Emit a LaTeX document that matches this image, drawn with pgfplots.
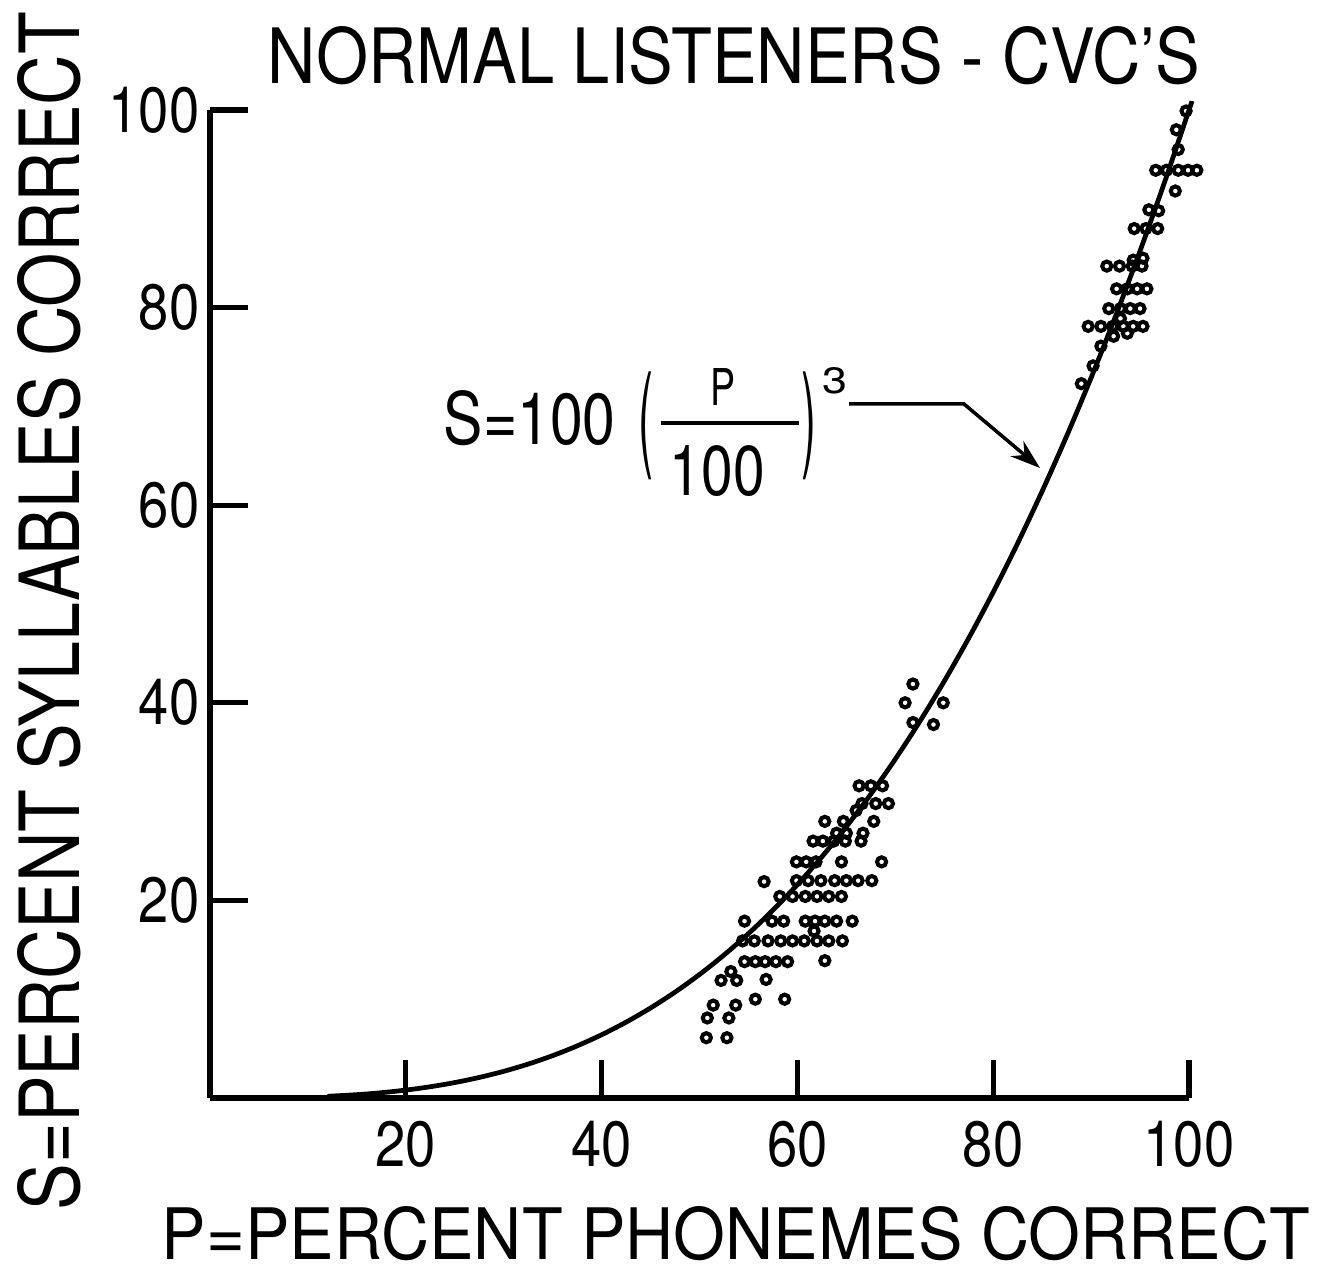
\documentclass[border=0pt]{standalone}
\usepackage{fontspec}
\setmainfont{TeX Gyre Heros}[FakeStretch=0.85]
\usepackage{graphicx}
\usepackage{pgfplots}
\pgfplotsset{compat=1.18}
\usetikzlibrary{arrows.meta}
\begin{document}
\begin{tikzpicture}[x=1mm,y=1mm]
\useasboundingbox (-21.0,-17.2) rectangle (111.8,109.8);
\begin{axis}[
  at={(0,0)}, anchor=south west,
  scale only axis, width=97.9mm, height=98.8mm,
  xmin=0, xmax=100, ymin=0, ymax=100,
  axis lines=left,
  axis line style={-, line width=1.5pt},
  xtick={20,40,60,80,100}, ytick={20,40,60,80,100},
  tick align=inside,
  major tick length=3.8mm,
  tick style={line width=1.5pt, black},
  /pgf/number format/assume math mode=true,
  ticklabel style={font=\fontsize{18.2}{20}\selectfont},
  xticklabel style={anchor=north, inner sep=0pt, yshift=-2.2mm},
  yticklabel style={anchor=east, inner sep=0pt, xshift=-1.0mm},
  clip=false,
]
\addplot[smooth, line width=1.35pt, no marks] coordinates {
(12,0.173)(15,0.338)(17.5,0.536)(20,0.8)(22.5,1.139)(25,1.5625)(27.5,2.080)
(30,2.7)(32.5,3.433)(35,4.288)(37.5,5.273)(40,6.4)(42.5,7.677)(45,9.113)
(47.5,10.717)(50,12.5)(52.5,14.470)(55,16.638)(57.5,19.011)(60,21.6)
(62.5,24.414)(65,27.463)(67.5,30.755)(70,34.3)(72.5,38.108)(75,42.188)
(77.5,46.548)(80,51.2)(82.5,56.152)(85,61.413)(87.5,66.992)(90,72.9)
(92.5,79.145)(95,85.738)(97.5,92.686)(100,100)(100.3,100.9)
};
\addplot[only marks, mark=o, mark size=1.3pt, mark options={line width=1.15pt, fill=white}] coordinates {
(50.7,6.1)(52.8,6.1)
(50.8,8.1)(53.0,8.1)
(51.4,9.4)(53.7,9.4)
(55.7,10.0)(58.7,10.0)
(52.2,11.9)(53.2,12.8)(53.8,11.9)(56.8,12.0)
(54.6,13.8)(55.7,13.8)(56.7,13.8)(57.8,13.8)(59.0,13.8)(62.8,13.9)
(54.4,15.9)(55.6,15.9)(57.0,15.9)(58.3,15.9)(59.5,15.9)(60.7,15.9)(62.0,15.9)(63.2,15.9)(64.6,15.9)
(61.7,16.9)
(54.6,17.9)(57.4,17.9)(58.6,17.9)(60.8,17.9)(61.8,17.9)(62.8,17.9)(64.0,17.9)(65.6,17.9)
(58.2,20.4)(59.5,20.4)(60.8,20.4)(62.0,20.4)(63.2,20.4)(64.5,20.4)
(56.6,21.9)
(59.9,22.0)(61.1,22.0)(62.4,22.0)(63.8,22.0)(65.0,22.0)(66.2,22.0)(67.6,22.0)
(59.9,23.9)(60.9,23.9)(61.9,23.9)(64.5,23.9)(68.6,23.9)
(61.6,26.0)(62.6,26.0)(63.7,26.0)(64.9,26.0)(66.5,26.0)
(64.0,26.8)(65.0,26.8)(66.7,26.8)
(62.8,28.0)(64.7,28.0)(67.8,28.0)
(66.0,29.1)
(66.6,29.8)(68.0,29.8)(69.3,29.8)
(66.3,31.6)(67.5,31.6)(68.7,31.6)
(71.8,41.9)(71.0,40.0)(74.9,40.0)(71.8,38.0)(73.9,37.8)
(99.7,99.9)(98.7,98.0)(98.9,96.0)
(96.6,93.9)(97.7,93.9)(98.9,93.9)(99.9,93.9)(100.8,93.9)
(98.6,91.8)
(95.9,89.9)(96.9,89.8)
(94.4,88.0)(95.6,88.0)(96.8,88.0)
(94.3,84.8)(95.3,85.0)
(91.6,84.2)(92.9,84.2)(94.2,84.2)(95.2,84.2)
(92.6,81.9)(93.7,81.9)(94.7,81.9)(95.7,81.9)
(91.8,79.9)(93.0,79.9)(94.0,79.9)(95.0,79.9)
(93.0,78.9)
(89.7,78.1)(91.0,78.1)(92.2,78.1)(93.3,78.1)(94.3,78.1)(95.3,78.1)
(92.3,77.1)(93.7,77.4)
(91.0,76.1)(90.2,74.1)(89.0,72.3)
};
\end{axis}
% title and axis labels
\node[inner sep=0pt] at (52.4,104.2) {\resizebox{93.2mm}{5.7mm}{NORMAL LISTENERS - CVC'S}};
\node[inner sep=0pt] at (52.6,-13.55) {\resizebox{114.8mm}{5.3mm}{P=PERCENT PHONEMES CORRECT}};
\node[inner sep=0pt, rotate=90] at (-16.1,48.7) {\resizebox{119.8mm}{6.2mm}{S=PERCENT SYLLABLES CORRECT}};
% annotation
\node[inner sep=0pt, anchor=south west] at (23.3,65.1) {\resizebox{17.2mm}{5.4mm}{S=100}};
\node[inner sep=0pt] at (43.6,67.2) {\resizebox*{1.5mm}{10.8mm}{(}};
\node[inner sep=0pt, anchor=north west] at (45.0,73.0) {\vbox{\offinterlineskip
  \hbox to 13.8mm{\hskip 5.0mm\resizebox{2.5mm}{3.7mm}{P}\hss}
  \vskip 1.5mm
  \hrule height 0.4mm
  \vskip 2.1mm
  \hbox to 13.8mm{\hskip 0.9mm\resizebox{9.5mm}{5.0mm}{100}\hss}}};
\node[inner sep=0pt] at (59.9,67.2) {\resizebox*{1.5mm}{10.8mm}{)}};
\node[inner sep=0pt] at (62.45,71.75) {\resizebox{2.5mm}{2.6mm}{3}};
\draw[line width=0.35mm, -{Stealth[length=3mm,width=2mm]}] (63.9,69.4) -- (75.4,69.4) -- (83.0,63.0);
\end{tikzpicture}
\end{document}
